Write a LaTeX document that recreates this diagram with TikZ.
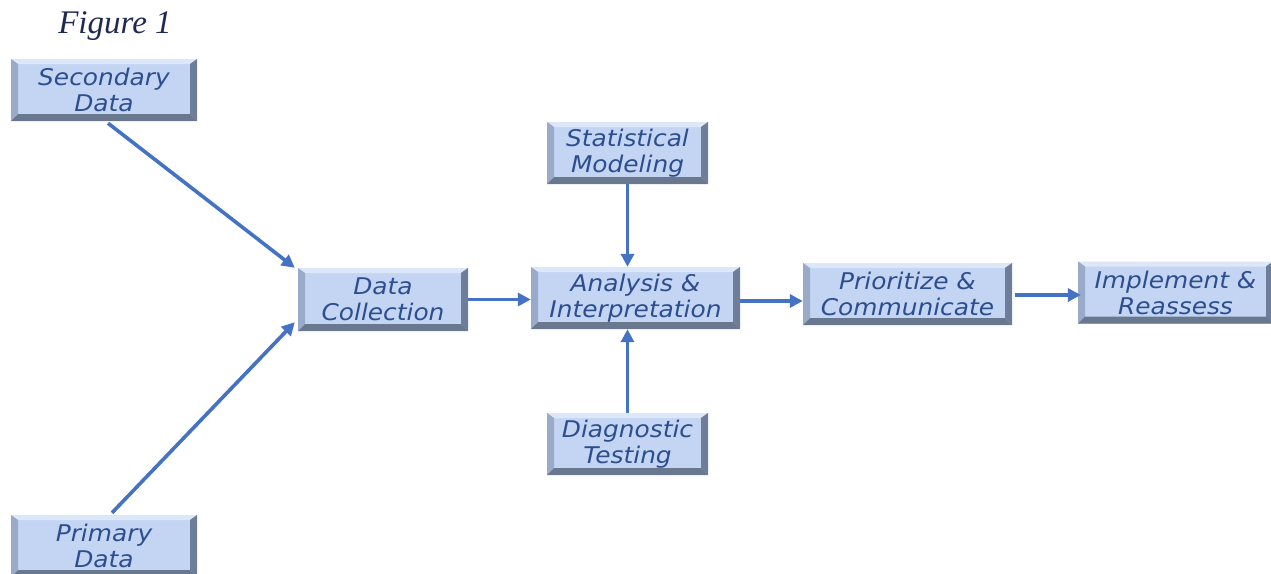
\documentclass[tikz,border=0pt]{standalone}
\usepackage{fontspec}
\newfontfamily\boxfont{DejaVu Sans}
\newfontfamily\titlefont{Liberation Serif}
\usetikzlibrary{arrows.meta,calc}
\definecolor{boxfill}{HTML}{C3D5F3}
\definecolor{bvtop}{HTML}{DCE7F9}
\definecolor{bvleft}{HTML}{9AABC9}
\definecolor{bvright}{HTML}{6F7E98}
\definecolor{bvbot}{HTML}{6A788F}
\definecolor{txtc}{HTML}{2D4E8E}
\definecolor{linec}{HTML}{4472C4}
\definecolor{titlec}{HTML}{1F2A50}
\tikzset{
  bx/.style={minimum width=#1, minimum height=62pt, inner sep=0pt, fill=boxfill,
    text=txtc, align=center,
    font=\boxfont\itshape\fontsize{23}{26}\selectfont,
    path picture={
      \coordinate (pnw) at (path picture bounding box.north west);
      \coordinate (pne) at (path picture bounding box.north east);
      \coordinate (psw) at (path picture bounding box.south west);
      \coordinate (pse) at (path picture bounding box.south east);
      \fill[bvtop] (pnw) -- (pne) -- ([shift={(-7pt,-5pt)}]pne) -- ([shift={(7pt,-5pt)}]pnw) -- cycle;
      \fill[bvleft] (pnw) -- ([shift={(7pt,-5pt)}]pnw) -- ([shift={(7pt,7pt)}]psw) -- (psw) -- cycle;
      \fill[bvright] (pne) -- ([shift={(-7pt,-5pt)}]pne) -- ([shift={(-7pt,7pt)}]pse) -- (pse) -- cycle;
      \fill[bvbot] (psw) -- ([shift={(7pt,7pt)}]psw) -- ([shift={(-7pt,7pt)}]pse) -- (pse) -- cycle;
    }},
  conn/.style={draw=linec, line width=3.6pt, -{Triangle[length=13pt,width=13pt]}},
}
\newcommand{\bxt}[1]{\scalebox{1.08}[1]{#1}}
\begin{document}
\begin{tikzpicture}[x=1pt,y=-1pt]
\useasboundingbox (0,0) rectangle (1271,573);
\node[font=\titlefont\itshape\fontsize{33}{36}\selectfont, text=titlec] (title) at (115,26) {Figure 1};

\node[bx=186pt] (sec) at (104,90) {\bxt{Secondary}\\\bxt{Data}};
\node[bx=186pt] (pri) at (104,546) {\bxt{Primary}\\\bxt{Data}};
\node[bx=170pt, minimum height=63pt] (dc) at (383,299.5) {\bxt{Data}\\\bxt{Collection}};
\node[bx=209pt] (ai) at (635.5,298) {\bxt{Analysis \&}\\\bxt{Interpretation}};
\node[bx=161pt] (sm) at (627.5,153) {\bxt{Statistical}\\\bxt{Modeling}};
\node[bx=161pt] (dt) at (627.5,444) {\bxt{Diagnostic}\\\bxt{Testing}};
\node[bx=209pt] (pc) at (907.5,294) {\bxt{Prioritize \&}\\\bxt{Communicate}};
\node[bx=195pt] (ir) at (1175.5,292.5) {\bxt{Implement \&}\\\bxt{Reassess}};

\coordinate (secout) at ($(sec.south)+(4pt,-2pt)$);
\coordinate (priout) at ($(pri.north)+(8pt,2pt)$);
\coordinate (dcin1) at ($(dc.north west)+(-3pt,0pt)$);
\coordinate (dcin2) at ($(dc.south west)+(-3pt,9pt)$);

\draw[conn] (secout) -- (dcin1);
\draw[conn] (priout) -- (dcin2);
\draw[conn] (dc.east) -- (dc.east -| ai.west);
\draw[conn] (sm.south) -- (sm.south |- ai.north);
\draw[conn] (dt.north) -- (dt.north |- ai.south);
\draw[conn] ([yshift=-3pt]ai.east) -- ([yshift=-3pt]ai.east -| pc.west);
\draw[conn] ([xshift=3pt,yshift=-1pt]pc.east) -- ([xshift=3pt,yshift=-1pt]pc.east -| ir.west);
\end{tikzpicture}
\end{document}
